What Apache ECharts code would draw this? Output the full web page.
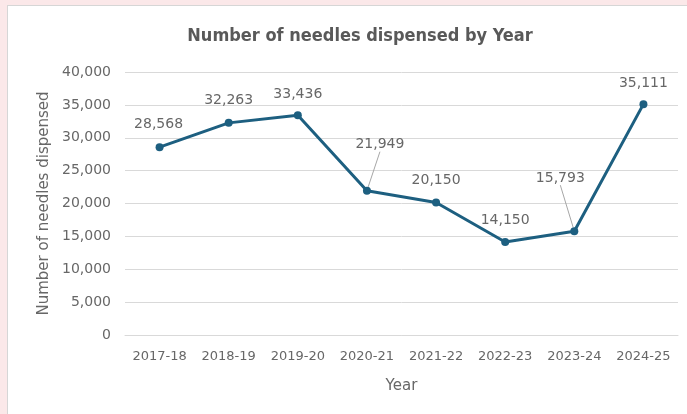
<!DOCTYPE html>
<html>
<head>
<meta charset="utf-8">
<script src="https://cdn.jsdelivr.net/npm/echarts@6/dist/echarts.min.js"></script>
<style>
  html, body { margin: 0; padding: 0; width: 687px; height: 414px; background: #fbe8e9; overflow: hidden; }
  #box { position: absolute; left: 7px; top: 5px; width: 690px; height: 420px; background: #fff; border: 1px solid #d6d6d6; box-sizing: border-box; }
  #chart { position: absolute; left: 0; top: 0; width: 687px; height: 414px; }
</style>
</head>
<body>
<div id="box"></div>
<div id="chart"></div>
<script>
const categories = ['2017-18', '2018-19', '2019-20', '2020-21', '2021-22', '2022-23', '2023-24', '2024-25'];
const needles = [28568, 32263, 33436, 21949, 20150, 14150, 15793, 35111];
const yTicks = { min: 0, max: 40000, interval: 5000 };

// label placement (style only): extra shift from default "top" position
const labelShift = [[-1, -7], [0, -7], [0, -5], [13, -30], [0, -6], [0, -6], [-14, -37], [0, -5]];
const leaderLine = [false, false, false, true, false, false, true, false];

const chart = echarts.init(document.getElementById('chart'), null, { renderer: 'canvas' });
const fam = '"DejaVu Sans", sans-serif';
const grey = '#595959';
const textGrey = '#676767';
chart.setOption({
  backgroundColor: 'transparent',
  animation: false,
  title: {
    text: 'Number of needles dispensed by Year',
    left: 355, top: 22, textAlign: 'center',
    textStyle: { fontFamily: '"DejaVu Sans Condensed", "DejaVu Sans", sans-serif', fontSize: 18, fontWeight: 'bold', color: grey }
  },
  grid: { left: 125, right: 9, top: 72, bottom: 79, containLabel: false },
  xAxis: {
    type: 'category',
    data: categories,
    boundaryGap: true,
    name: 'Year',
    nameLocation: 'middle',
    nameGap: 44,
    nameTextStyle: { fontFamily: fam, fontSize: 15, color: textGrey },
    axisLine: { show: true, lineStyle: { color: '#d9d9d9', width: 1 } },
    axisTick: { show: false },
    axisLabel: { fontFamily: fam, fontSize: 13, color: textGrey, margin: 15, interval: 0 }
  },
  yAxis: {
    type: 'value',
    min: yTicks.min, max: yTicks.max, interval: yTicks.interval,
    name: 'Number of needles dispensed',
    nameLocation: 'middle',
    nameGap: 72,
    nameRotate: 90,
    nameTextStyle: { fontFamily: fam, fontSize: 15, color: textGrey },
    axisLine: { show: false },
    axisTick: { show: false },
    splitLine: { lineStyle: { color: '#d9d9d9', width: 1 } },
    axisLabel: {
      fontFamily: fam, fontSize: 14, color: textGrey, margin: 14,
      formatter: v => v.toLocaleString('en-US')
    }
  },
  series: [{
    type: 'line',
    data: needles.map((v, i) => ({
      value: v,
      labelLine: { show: leaderLine[i], lineStyle: { color: '#a6a6a6', width: 1 } }
    })),
    symbol: 'circle',
    symbolSize: 8,
    lineStyle: { color: '#1d5f80', width: 3 },
    itemStyle: { color: '#1d5f80' },
    label: {
      show: true, position: 'top', distance: 5,
      fontFamily: fam, fontSize: 14, color: textGrey,
      formatter: p => p.value.toLocaleString('en-US')
    },
    labelLayout: p => ({ dx: labelShift[p.dataIndex][0], dy: labelShift[p.dataIndex][1] }),
    labelLine: { show: false, lineStyle: { color: '#a6a6a6', width: 1 } }
  }]
});
</script>
</body>
</html>
